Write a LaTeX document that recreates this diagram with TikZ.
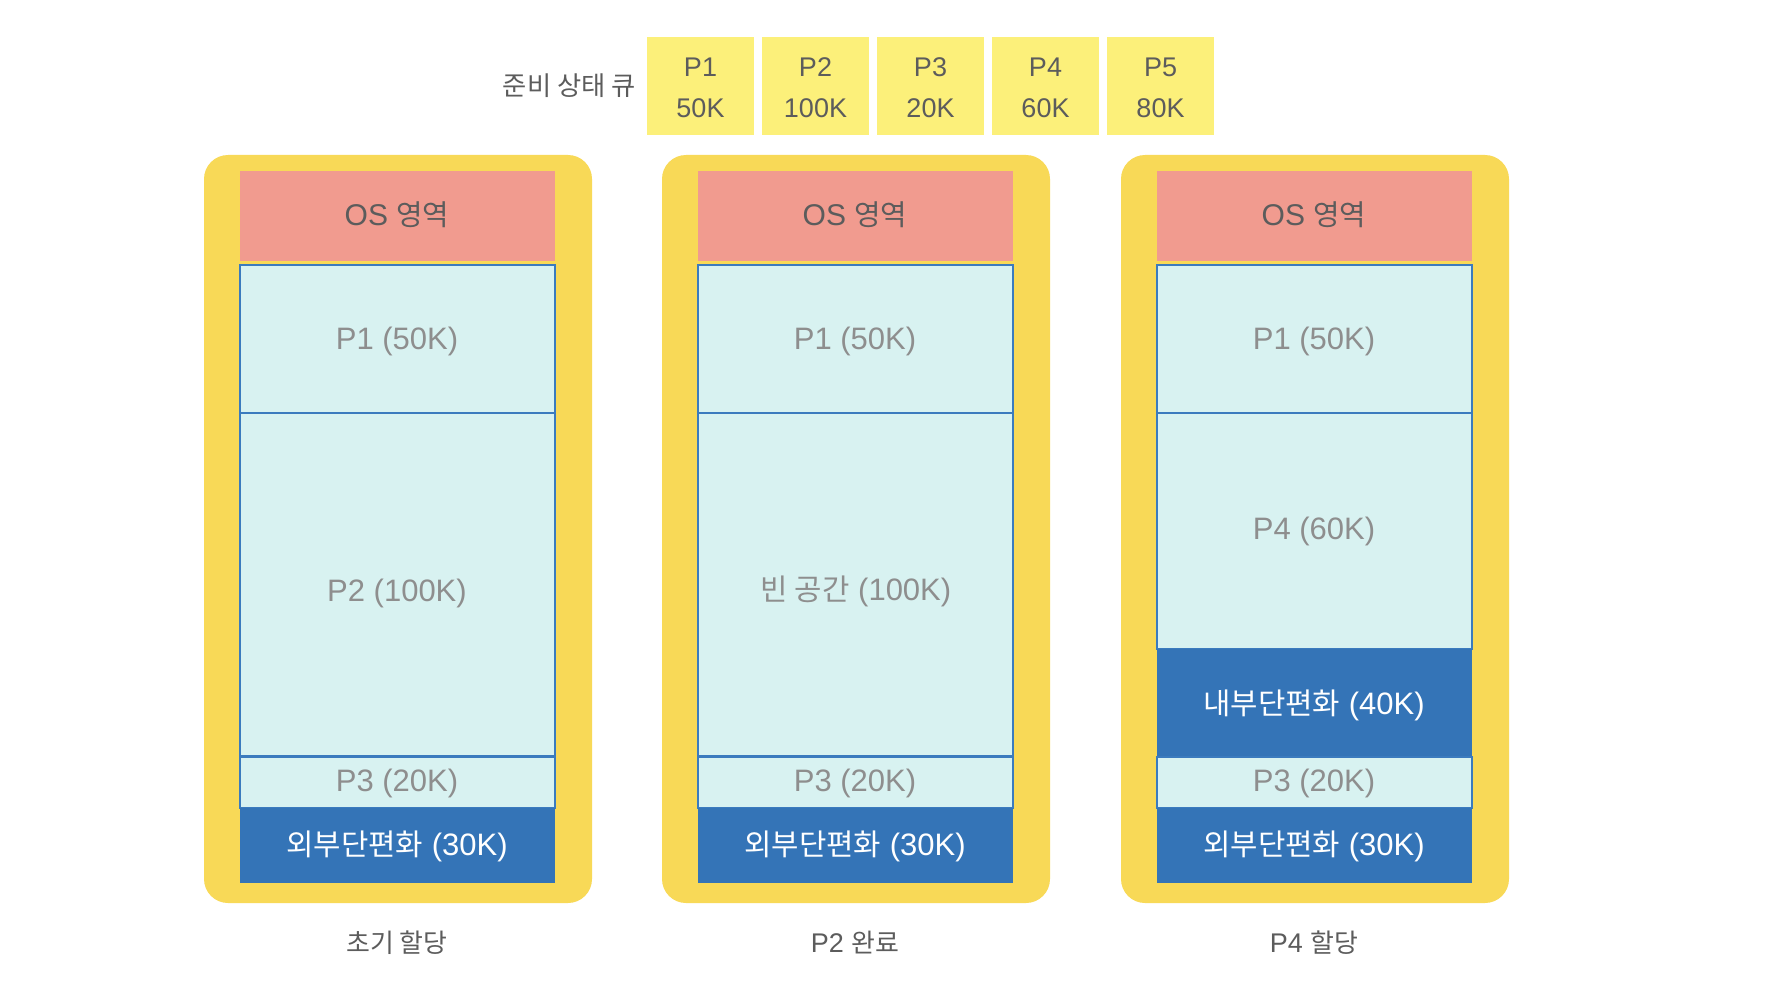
\documentclass[tikz,border=0pt]{standalone}
\usepackage{fontspec}
\setmainfont{Liberation Sans}
\newfontfamily\korfont[Scale=0.96]{Noto Sans CJK KR}
\newcommand{\kor}[1]{{\korfont #1}}
\definecolor{frameYellow}{HTML}{F8D957}
\definecolor{queueYellow}{HTML}{FCF07A}
\definecolor{osRed}{HTML}{F19B8F}
\definecolor{memCyan}{HTML}{D8F2F1}
\definecolor{fragBlue}{HTML}{3474B7}
\definecolor{lineBlue}{HTML}{3B7BBE}
\definecolor{textGray}{HTML}{8E8E8E}
\definecolor{darkGray}{HTML}{5C5C5C}
\tikzset{
  memfill/.style={fill=memCyan, draw=lineBlue, line width=0.7pt},
  memtext/.style={font=\fontsize{15.5}{18}\selectfont, text=textGray},
  ostext/.style={font=\fontsize{15}{18}\selectfont, text=darkGray},
  fragtext/.style={font=\fontsize{15.5}{18}\selectfont, text=white},
  qtext/.style={font=\fontsize{13.5}{16}\selectfont, text=darkGray},
  captext/.style={font=\fontsize{13.5}{16}\selectfont, text=darkGray}
}

\begin{document}
\begin{tikzpicture}[x=0.5pt, y=-0.5pt]
\useasboundingbox[fill=white] (0,0) rectangle (1778,990);
% ready queue
\node[qtext, font=\fontsize{13.7}{16}\selectfont, anchor=east, inner sep=0pt] (qlabel) at (636,86) {\kor{준비 상태 큐}};
\foreach \i/\sz [count=\k from 0] in {1/50K, 2/100K, 3/20K, 4/60K, 5/80K}{
\fill[queueYellow] (647+115*\k,37) rectangle +(107,98);
\node[qtext] (q\i) at (700.5+115*\k,67) {P\i};
\node[qtext] (q\i size) at (700.5+115*\k,108) {\sz};
}
% memory columns
\foreach \c/\dx/\cap in {1/0/\kor{초기 할당}, 2/458/P2 \kor{완료}, 3/917/P4 \kor{할당}}{
\fill[frameYellow, rounded corners=12pt] (204+\dx,155) rectangle (592+\dx,903);
\fill[osRed] (240+\dx,171) rectangle (555+\dx,261);
\node[ostext] (os\c) at (397+\dx,215) {OS \kor{영역}};
\filldraw[memfill] (240+\dx,265) rectangle (555+\dx,413);
\node[memtext] (p1\c) at (397+\dx,341) {P1 (50K)};
\node[captext] (cap\c) at (397+\dx,943) {\cap};
}
% middle blocks
\filldraw[memfill] (240,413) rectangle (555,756);
\node[memtext] (p2) at (397,593) {P2 (100K)};
\filldraw[memfill] (698,413) rectangle (1013,756);
\node[memtext] (hole) at (856,591) {\kor{빈 공간} (100K)};
\filldraw[memfill] (1157,413) rectangle (1472,649);
\node[memtext] (p4) at (1314,531) {P4 (60K)};
\fill[fragBlue] (1157,649) rectangle (1472,757);
\node[fragtext] (inner) at (1314,705) {\kor{내부단편화} (40K)};
% bottom blocks
\foreach \c/\dx in {1/0, 2/458, 3/917}{
\filldraw[memfill] (240+\dx,757) rectangle (555+\dx,808);
\node[memtext] (p3\c) at (397+\dx,783) {P3 (20K)};
\fill[fragBlue] (240+\dx,808) rectangle (555+\dx,883);
\node[fragtext] (ext\c) at (397+\dx,846) {\kor{외부단편화} (30K)};
}
\end{tikzpicture}
\end{document}
